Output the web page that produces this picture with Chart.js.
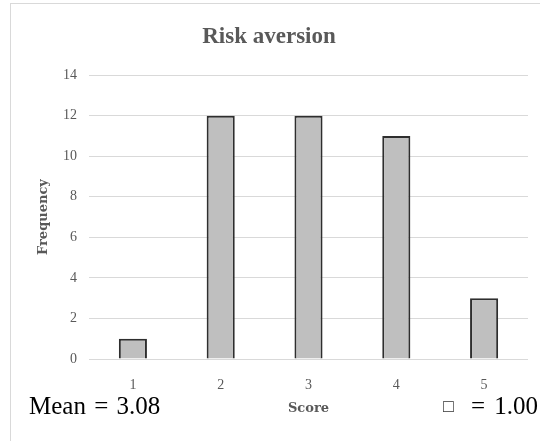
<!DOCTYPE html>
<html>
<head>
<meta charset="utf-8">
<script src="https://cdn.jsdelivr.net/npm/chart.js@4.4.1/dist/chart.umd.min.js"></script>
<style>
  html, body { margin: 0; padding: 0; background: #fff; overflow: hidden; }
  #wrap { position: relative; width: 540px; height: 441px; }
  #frame { position: absolute; left: 10px; top: 3px; width: 600px; height: 500px; border: 1px solid #d9d9d9; }
  #myChart { position: absolute; left: 0; top: 0; }
  .note { position: absolute; font-family: "Liberation Serif", serif; font-size: 25px; color: #000; line-height: 1; }
  #mean { left: 29px; top: 393px; word-spacing: 2px; }
  #sd { right: 2px; top: 393px; word-spacing: 3px; }
  #sd span { font-size: 18px; margin-right: 17px; vertical-align: 2px; color: #333; }
</style>
</head>
<body>
<div id="wrap">
  <div id="frame"></div>
  <canvas id="myChart" width="540" height="441"></canvas>
  <div class="note" id="mean">Mean = 3.08</div>
  <div class="note" id="sd"><span>&#9633;</span>= 1.00</div>
</div>
<script>
const scores = ['1', '2', '3', '4', '5'];
const frequency = [1, 12, 12, 11, 3];
const yTicks = [0, 2, 4, 6, 8, 10, 12, 14];

const grey = '#595959';
const serif = '"Liberation Serif", "Times New Roman", serif';
const wideSerif = '"DejaVu Serif", serif';

const ctx = document.getElementById('myChart').getContext('2d');
new Chart(ctx, {
  type: 'bar',
  data: {
    labels: scores,
    datasets: [{
      data: frequency,
      backgroundColor: '#bfbfbf',
      borderColor: '#2e2e2e',
      borderWidth: 2,
      categoryPercentage: 1,
      barPercentage: 0.32
    }]
  },
  options: {
    responsive: false,
    animation: false,
    layout: { padding: { left: 10, right: 12, top: 0, bottom: 0 } },
    plugins: {
      legend: { display: false },
      tooltip: { enabled: false },
      title: {
        display: true,
        text: 'Risk aversion',
        color: grey,
        font: { family: serif, size: 23, weight: 'bold' },
        padding: { top: 23, bottom: 24.5 }
      }
    },
    scales: {
      x: {
        grid: { display: false },
        border: { display: false },
        ticks: { color: grey, font: { family: serif, size: 14 }, padding: 10 },
        title: {
          display: true,
          text: 'Score',
          color: grey,
          font: { family: wideSerif, size: 13, weight: 'bold' },
          padding: { top: 4, bottom: 25 }
        },
        afterFit: function(scale) { scale.height = 82; }
      },
      y: {
        min: 0,
        max: 14,
        afterBuildTicks: function(scale) { scale.ticks = yTicks.map(v => ({ value: v })); },
        grid: { color: '#d9d9d9', lineWidth: 1, drawTicks: false },
        border: { display: false },
        ticks: { color: grey, font: { family: serif, size: 14 }, padding: 12 },
        title: {
          display: true,
          text: 'Frequency',
          color: grey,
          font: { family: wideSerif, size: 13, weight: 'bold' },
          padding: { top: 26, bottom: 0 }
        },
        afterFit: function(scale) { scale.width = 79; }
      }
    }
  }
});
</script>
</body>
</html>
